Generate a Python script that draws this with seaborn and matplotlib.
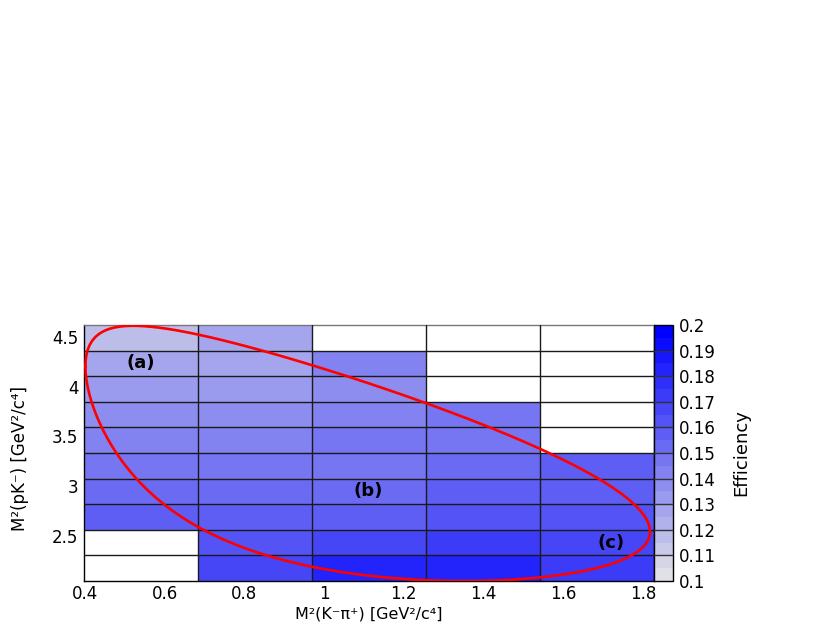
import numpy as np
import pandas as pd
import matplotlib
matplotlib.use("Agg")
import matplotlib.pyplot as plt
from matplotlib.colors import ListedColormap
from matplotlib.ticker import MultipleLocator, FormatStrFormatter, FixedLocator
import seaborn as sns

# Binning of the efficiency map (Dalitz plane)
x_lo, x_hi, n_xbins = 0.3975, 1.8276, 5
y_lo, y_hi, n_ybins = 2.0505, 4.6170, 10

# Efficiency per bin: one list per M2(K-pi+) column, rows from bottom to top
eff_col0 = [np.nan, np.nan, 0.157, 0.153, 0.146, 0.143, 0.135, 0.130, 0.126, 0.117]
eff_col1 = [0.168, 0.164, 0.159, 0.153, 0.146, 0.143, 0.136, 0.131, 0.127, 0.126]
eff_col2 = [0.181, 0.167, 0.157, 0.154, 0.146, 0.147, 0.142, 0.139, 0.143, np.nan]
eff_col3 = [0.183, 0.170, 0.161, 0.158, 0.153, 0.149, 0.146, np.nan, np.nan, np.nan]
eff_col4 = [0.171, 0.168, 0.161, 0.157, 0.158, np.nan, np.nan, np.nan, np.nan, np.nan]

# Masses (GeV) for the kinematic boundary of Lc -> p K- pi+
m_lc, m_p, m_k, m_pi = 2.28646, 0.938272, 0.493677, 0.139570

# Labels
regions = ["(a)", "(b)", "(c)"]
region_x = [0.541, 1.111, 1.719]
region_y = [4.236, 2.952, 2.430]
cbar_ticks = [0.1, 0.11, 0.12, 0.13, 0.14, 0.15, 0.16, 0.17, 0.18, 0.19, 0.2]

x_edges = np.linspace(x_lo, x_hi, n_xbins + 1)
y_edges = np.linspace(y_lo, y_hi, n_ybins + 1)
x_cent = 0.5 * (x_edges[:-1] + x_edges[1:])
y_cent = 0.5 * (y_edges[:-1] + y_edges[1:])

rows = []
for i, col in enumerate([eff_col0, eff_col1, eff_col2, eff_col3, eff_col4]):
    for j, e in enumerate(col):
        rows.append({"mkpi": x_cent[i], "mpk": y_cent[j], "eff": e})
df = pd.DataFrame(rows).dropna()

# Dalitz boundary
s = np.linspace((m_k + m_pi) ** 2, (m_lc - m_p) ** 2, 2000)
ek = (s - m_pi ** 2 + m_k ** 2) / (2 * np.sqrt(s))
ep = (m_lc ** 2 - s - m_p ** 2) / (2 * np.sqrt(s))
pk = np.sqrt(np.clip(ek ** 2 - m_k ** 2, 0, None))
pp = np.sqrt(np.clip(ep ** 2 - m_p ** 2, 0, None))
y_min = (ek + ep) ** 2 - (pk + pp) ** 2
y_max = (ek + ep) ** 2 - (pk - pp) ** 2
bx = np.concatenate([s, s[::-1], s[:1]])
by = np.concatenate([y_max, y_min[::-1], y_max[:1]])

sns.set_style("white")
plt.rcParams["font.family"] = ["DejaVu Sans"]
plt.rcParams["text.color"] = "black"
plt.rcParams["axes.labelcolor"] = "black"
plt.rcParams["xtick.color"] = "black"
plt.rcParams["ytick.color"] = "black"

cmap = ListedColormap(sns.blend_palette(["#e0e0e6", "#0000ff"], 20))

fig = plt.figure(figsize=(8.3, 6.23), dpi=100)
ax = fig.add_axes([84 / 830, 1 - 581 / 623, 570 / 830, 256 / 623])
cax = fig.add_axes([654 / 830, 1 - 581 / 623, 19 / 830, 256 / 623])

sns.histplot(data=df, x="mkpi", y="mpk", weights="eff", bins=[x_edges, y_edges],
             cmap=cmap, vmin=0.1, vmax=0.2, cbar=True, cbar_ax=cax, ax=ax)

for xe in x_edges[1:-1]:
    ax.axvline(xe, color="#1a1a1a", lw=1.0, zorder=3)
for ye in y_edges[1:-1]:
    ax.axhline(ye, color="#1a1a1a", lw=1.0, zorder=3)

sns.lineplot(x=bx, y=by, sort=False, estimator=None, color="#ff0000", lw=1.9, ax=ax, zorder=4)

for lab, lx, ly in zip(regions, region_x, region_y):
    ax.text(lx, ly, lab, fontsize=13, fontweight="bold", color="black",
            ha="center", va="center", zorder=5)

ax.set_xlim(x_lo, x_hi)
ax.set_ylim(y_lo, y_hi)
ax.xaxis.set_major_locator(MultipleLocator(0.2))
ax.xaxis.set_minor_locator(MultipleLocator(0.05))
ax.yaxis.set_major_locator(MultipleLocator(0.5))
ax.yaxis.set_minor_locator(MultipleLocator(0.1))
ax.xaxis.set_major_formatter(FormatStrFormatter("%g"))
ax.yaxis.set_major_formatter(FormatStrFormatter("%g"))
ax.tick_params(axis="x", which="major", direction="in", length=5, width=1, labelsize=12, pad=3)
ax.tick_params(axis="x", which="minor", direction="in", length=2.5, width=0.8)
ax.tick_params(axis="y", which="major", direction="in", length=13.5, width=1, labelsize=12, pad=4)
ax.tick_params(axis="y", which="minor", direction="in", length=6.8, width=0.8)
for sp in ax.spines.values():
    sp.set_color("black")
    sp.set_linewidth(1.0)
ax.spines["top"].set_color("#777777")

ax.set_xlabel("M²(K⁻π⁺) [GeV²/c⁴]", fontsize=11.5)
ax.xaxis.label.set_va("center")
ax.xaxis.set_label_coords(0.5, -0.127)
ax.set_ylabel("M²(pK⁻) [GeV²/c⁴]", fontsize=12)
ax.yaxis.label.set_va("center")
ax.yaxis.set_label_coords(-0.112, 0.48)

# palette axis: tick marks across the colour bar
for t in cbar_ticks[1:-1]:
    cax.axhline(t, color="#333333", lw=1.0, zorder=5)
cax.yaxis.set_major_locator(FixedLocator(cbar_ticks))
cax.yaxis.set_major_formatter(FormatStrFormatter("%g"))
cax.tick_params(axis="y", direction="in", length=0, labelsize=12, pad=4,
                right=True, left=False, labelright=True, labelleft=False)
cax.yaxis.set_label_position("right")
cax.set_ylabel("Efficiency", fontsize=13, labelpad=12)
for sp in cax.spines.values():
    sp.set_color("black")
    sp.set_linewidth(1.0)

fig.savefig("out.png", dpi=100)
